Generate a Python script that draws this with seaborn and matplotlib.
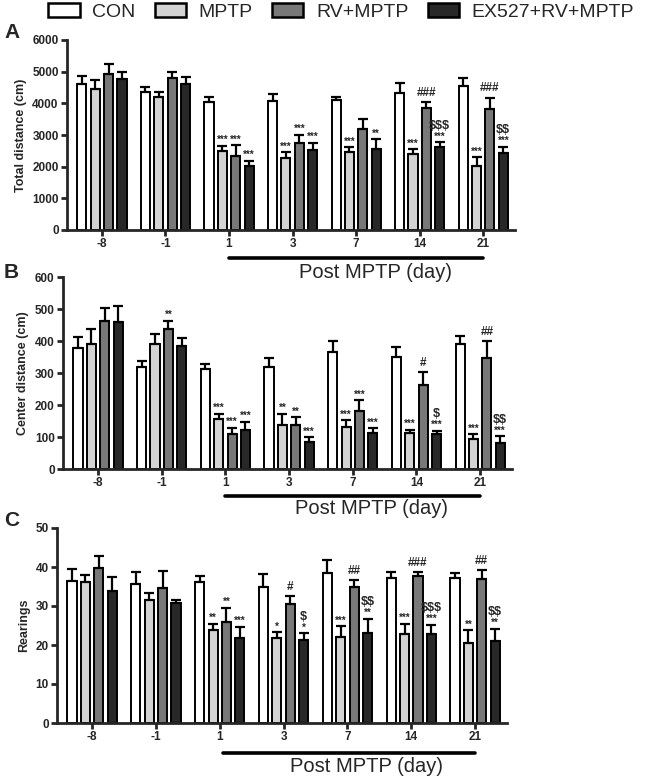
import numpy as np
import pandas as pd
import matplotlib
matplotlib.use("Agg")
import matplotlib.pyplot as plt
import matplotlib.transforms as mtransforms
from matplotlib.patches import Patch
import seaborn as sns

days = ["-8", "-1", "1", "3", "7", "14", "21"]
groups = ["CON", "MPTP", "RV+MPTP", "EX527+RV+MPTP"]
colors = ["#ffffff", "#d3d3d3", "#787878", "#282828"]

# A - total distance (cm)
dist_con = [4600, 4350, 4050, 4070, 4100, 4330, 4550]
dist_mptp = [4450, 4210, 2490, 2260, 2460, 2400, 2030]
dist_rv = [4930, 4790, 2350, 2740, 3180, 3860, 3820]
dist_ex = [4760, 4610, 2030, 2530, 2560, 2610, 2420]
dist_con_sem = [260, 180, 160, 210, 100, 300, 250]
dist_mptp_sem = [280, 150, 170, 200, 150, 150, 260]
dist_rv_sem = [300, 200, 320, 260, 310, 180, 350]
dist_ex_sem = [230, 210, 160, 230, 300, 160, 210]

# B - center distance (cm)
cen_con = [379, 319, 311, 320, 366, 349, 390]
cen_mptp = [390, 392, 155, 138, 132, 114, 95]
cen_rv = [462, 436, 110, 136, 181, 263, 348]
cen_ex = [458, 383, 122, 84, 111, 110, 82]
cen_con_sem = [34, 18, 17, 28, 35, 31, 27]
cen_mptp_sem = [46, 29, 17, 34, 21, 8, 13]
cen_rv_sem = [41, 27, 19, 25, 34, 40, 52]
cen_ex_sem = [52, 27, 25, 15, 17, 10, 20]

# C - rearings
rear_con = [36.3, 35.7, 36.1, 34.8, 38.5, 37.2, 37.3]
rear_mptp = [36.2, 31.5, 23.9, 21.9, 22.1, 22.9, 20.5]
rear_rv = [39.7, 34.5, 25.9, 30.6, 34.8, 37.7, 37.0]
rear_ex = [33.8, 30.8, 21.8, 21.2, 23.1, 22.9, 21.0]
rear_con_sem = [3.3, 2.9, 1.7, 3.5, 3.2, 1.5, 1.2]
rear_mptp_sem = [1.7, 1.9, 1.5, 1.4, 2.7, 2.5, 3.3]
rear_rv_sem = [3.0, 4.6, 3.6, 1.9, 1.8, 1.0, 2.2]
rear_ex_sem = [3.6, 0.7, 2.9, 1.8, 3.6, 2.3, 3.2]

# significance marks
a_star = [["", "", "***", "***", "***", "***", "***"],
          ["", "", "***", "***", "", "", ""],
          ["", "", "***", "***", "**", "***", "***"]]
a_hash = ["", "", "", "", "", "###", "###"]
a_dollar = ["", "", "", "", "", "$$$", "$$"]

b_star = [["", "", "***", "**", "***", "***", "***"],
          ["", "**", "***", "**", "***", "", ""],
          ["", "", "***", "***", "***", "***", "***"]]
b_hash = ["", "", "", "", "", "#", "##"]
b_dollar = ["", "", "", "", "", "$", "$$"]

c_star = [["", "", "**", "*", "***", "***", "**"],
          ["", "", "**", "", "", "", ""],
          ["", "", "***", "*", "**", "***", "**"]]
c_hash = ["", "", "", "#", "##", "###", "##"]
c_dollar = ["", "", "", "$", "$$", "$$$", "$$"]

W, H = 650, 777
fig = plt.figure(figsize=(W / 100, H / 100), dpi=100)
sns.set_style("ticks")
plt.rcParams['font.family'] = ['Liberation Sans', 'DejaVu Sans']


def panel(rect, means, sems, stars, hashes, dollars, ylim, yticks, ylabel,
          line_y, text_y, line_x0):
    ax = fig.add_axes(rect)
    ax.patch.set_alpha(0)
    df = pd.DataFrame({
        "day": np.tile(days, 4),
        "group": np.repeat(groups, 7),
        "value": np.concatenate(means),
    })
    sns.barplot(data=df, x="day", y="value", hue="group", order=days,
                hue_order=groups, palette=colors, errorbar=None,
                width=0.84, gap=0.32, edgecolor="black", linewidth=1.4,
                legend=False, ax=ax)
    bar_conts = list(ax.containers)
    tops = []
    for gi, cont in enumerate(bar_conts):
        xs = [p.get_x() + p.get_width() / 2 for p in cont.patches]
        m = np.array(means[gi])
        s = np.array(sems[gi])
        ax.errorbar(xs, m, yerr=[np.zeros_like(s), s], fmt="none",
                    ecolor="black", elinewidth=1.6, capsize=3.5,
                    capthick=1.6, zorder=1)
        tops.append((xs, m + s))
    # marks
    for k in range(3):
        xs, tp = tops[k + 1]
        for i, t in enumerate(stars[k]):
            if t:
                ax.annotate(t, (xs[i], tp[i]), xytext=(0, 0.5),
                            textcoords="offset points", ha="center",
                            va="bottom", fontsize=7, fontweight="bold")
    xs, tp = tops[2]
    for i, t in enumerate(hashes):
        if t:
            ax.annotate(t, (xs[i], tp[i]), xytext=(0, 2.5),
                        textcoords="offset points", ha="center",
                        va="bottom", fontsize=8.5, fontweight="bold")
    xs, tp = tops[3]
    for i, t in enumerate(dollars):
        if t:
            off = 7.5 if stars[2][i] else 2.5
            ax.annotate(t, (xs[i], tp[i]), xytext=(0, off),
                        textcoords="offset points", ha="center",
                        va="bottom", fontsize=9, fontweight="bold",
                        parse_math=False)

    ax.set_xlim(-0.55, 6.5)
    ax.set_ylim(*ylim)
    ax.set_yticks(yticks)
    ax.set_xlabel("")
    ax.set_ylabel(ylabel, fontsize=9, fontweight="bold", labelpad=4)
    for lab in ax.get_xticklabels() + ax.get_yticklabels():
        lab.set_fontweight("bold")
        lab.set_fontsize(8.5)
    sns.despine(ax=ax)
    for sp in ["left", "bottom"]:
        ax.spines[sp].set_linewidth(2)
    ax.tick_params(axis="both", width=2, length=4, pad=2)

    trans = mtransforms.blended_transform_factory(ax.transData, fig.transFigure)
    ax.plot([line_x0, 6], [1 - line_y / H] * 2, color="black", lw=2.6,
            transform=trans, clip_on=False)
    ax.text(4.3, 1 - text_y / H, "Post MPTP (day)", transform=trans,
            ha="center", va="center", fontsize=14.5, zorder=10)
    return ax


panel([67 / W, 1 - 230 / H, 448 / W, 190 / H],
      [dist_con, dist_mptp, dist_rv, dist_ex],
      [dist_con_sem, dist_mptp_sem, dist_rv_sem, dist_ex_sem],
      a_star, a_hash, a_dollar, (0, 6000), range(0, 6001, 1000),
      "Total distance (cm)", 258, 273, 2.0)

panel([63 / W, 1 - 469 / H, 449 / W, 192 / H],
      [cen_con, cen_mptp, cen_rv, cen_ex],
      [cen_con_sem, cen_mptp_sem, cen_rv_sem, cen_ex_sem],
      b_star, b_hash, b_dollar, (0, 600), range(0, 601, 100),
      "Center distance (cm)", 496, 508, 2.0)

panel([57 / W, 1 - 723 / H, 450 / W, 195 / H],
      [rear_con, rear_mptp, rear_rv, rear_ex],
      [rear_con_sem, rear_mptp_sem, rear_rv_sem, rear_ex_sem],
      c_star, c_hash, c_dollar, (0, 50), range(0, 51, 10),
      "Rearings", 753, 767, 2.05)

for lab, y in [("A", 33), ("B", 273), ("C", 521)]:
    fig.text(4 / W, 1 - y / H, lab, fontsize=15, fontweight="bold",
             va="center", ha="left")

handles = [Patch(facecolor=c, edgecolor="black", linewidth=1.8) for c in colors]
fig.legend(handles, groups, loc="center", bbox_to_anchor=(0.525, 1 - 12 / H),
           ncol=4, frameon=False, fontsize=14, handlelength=1.6,
           handleheight=0.75, handletextpad=0.65, columnspacing=1.0,
           borderaxespad=0, borderpad=0)

fig.savefig("out.png", dpi=100)
